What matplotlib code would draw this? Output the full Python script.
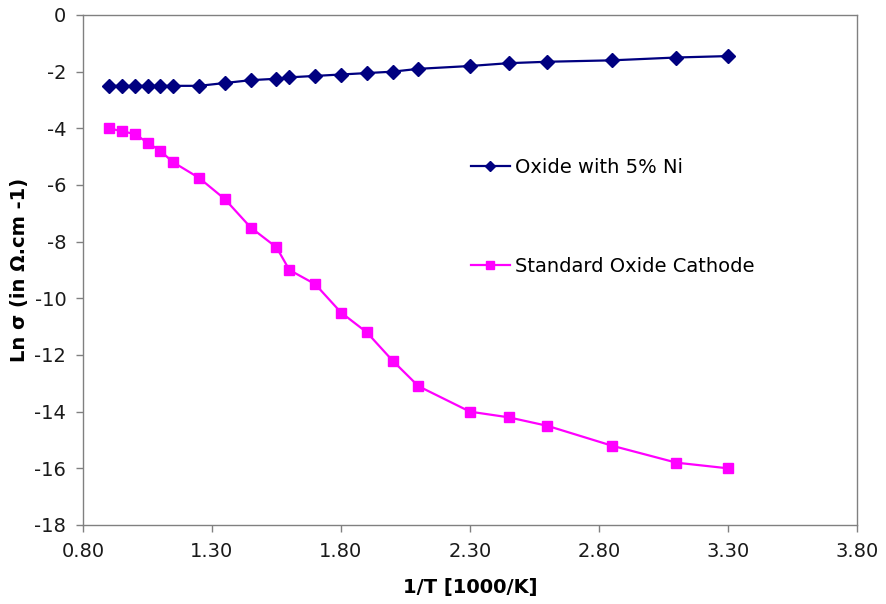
import matplotlib
matplotlib.use("Agg")
import matplotlib.pyplot as plt

inv_T = [0.90, 0.95, 1.00, 1.05, 1.10, 1.15, 1.25, 1.35, 1.45, 1.55, 1.60,
         1.70, 1.80, 1.90, 2.00, 2.10, 2.30, 2.45, 2.60, 2.85, 3.10, 3.30]
ni_oxide = [-2.5, -2.5, -2.5, -2.5, -2.5, -2.5, -2.5, -2.4, -2.3, -2.25, -2.2,
            -2.15, -2.1, -2.05, -2.0, -1.9, -1.8, -1.7, -1.65, -1.6, -1.5, -1.45]
std_oxide = [-4.0, -4.1, -4.2, -4.5, -4.8, -5.2, -5.75, -6.5, -7.5, -8.2, -9.0,
             -9.5, -10.5, -11.2, -12.2, -13.1, -14.0, -14.2, -14.5, -15.2, -15.8, -16.0]
x_ticks = [0.80, 1.30, 1.80, 2.30, 2.80, 3.30, 3.80]
y_ticks = [0, -2, -4, -6, -8, -10, -12, -14, -16, -18]
labels = ["Oxide with 5% Ni", "Standard Oxide Cathode"]

plt.rcParams['font.family'] = ['DejaVu Sans']
plt.rcParams['axes.unicode_minus'] = False
fig = plt.figure(figsize=(8.87, 6.04), dpi=100)
ax = fig.add_axes([83/887, 1-525/604, (857-83)/887, (525-15)/604])

ax.plot(inv_T, ni_oxide, color='#000080', lw=1.6, marker='D', ms=7,
        label=labels[0])
ax.plot(inv_T, std_oxide, color='#FF00FF', lw=1.6, marker='s', ms=7.5,
        label=labels[1])

ax.set_xlim(0.80, 3.80)
ax.set_ylim(-18, 0)
ax.set_xticks(x_ticks)
ax.set_xticklabels([f"{v:.2f}" for v in x_ticks])
ax.set_yticks(y_ticks)
ax.tick_params(axis='both', labelsize=14, length=5, width=1,
               direction='out', color='#808080', labelcolor='#1a1a1a')
ax.tick_params(axis='y', pad=7)
ax.tick_params(axis='x', pad=7)
for s in ax.spines.values():
    s.set_color('#808080')
    s.set_linewidth(1)

ax.set_xlabel("1/T [1000/K]", fontsize=14, fontweight='bold')
ax.xaxis.set_label_coords(0.5, -(597 - 525) / 510)
ax.xaxis.label.set_va('bottom')
ax.set_ylabel("Ln σ (in Ω.cm -1)", fontsize=14, fontweight='bold')
ax.yaxis.set_label_coords(-(83 - 29) / 774, 0.5)

fig.legend(loc='center left', bbox_to_anchor=(471/887, 1-217/604),
           frameon=False, fontsize=14, labelspacing=4.1,
           handlelength=2.0, handletextpad=0.25, borderpad=0,
           borderaxespad=0, markerscale=0.75)

fig.savefig("out.png", dpi=100)
